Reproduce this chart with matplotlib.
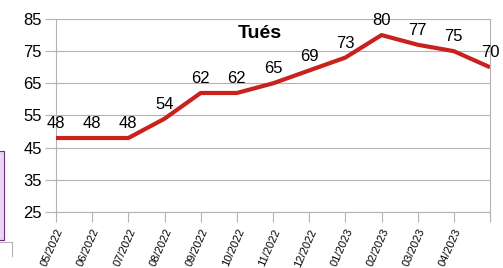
import matplotlib.pyplot as plt
from matplotlib.patches import Rectangle
from matplotlib.lines import Line2D

plt.rcParams['font.family'] = ['Liberation Sans', 'DejaVu Sans']

months = ["05/2022", "06/2022", "07/2022", "08/2022", "09/2022", "10/2022",
          "11/2022", "12/2022", "01/2023", "02/2023", "03/2023", "04/2023", ""]
tues = [48, 48, 48, 54, 62, 62, 65, 69, 73, 80, 77, 75, 70]

fig = plt.figure(figsize=[5.03, 2.68], dpi=100)
ax = fig.add_axes([56/503, 1-212/268, 434/503, 193/268])

x = list(range(len(tues)))
ax.plot(x, tues, color="#c9211e", linewidth=3, solid_capstyle="butt", zorder=3)
for xi, v in zip(x, tues):
    ax.annotate(str(v), (xi, v), xytext=(0, 5), textcoords="offset points",
                ha="center", va="bottom", fontsize=12, zorder=4)

ax.set_xlim(0, len(tues)-1)
ax.set_ylim(25, 85)
ax.set_yticks(range(25, 86, 10))
ax.set_xticks(x)
ax.set_xticklabels(months, rotation=66, ha="right", rotation_mode="anchor", fontsize=8)
ax.tick_params(axis="y", labelsize=12, length=8, color="#b3b3b3", pad=2)
ax.tick_params(axis="x", length=7, color="#b3b3b3", pad=4)
ax.grid(axis="y", color="#b3b3b3", linewidth=0.8)
for s in ["left", "right", "bottom"]:
    ax.spines[s].set_color("#b3b3b3")
    ax.spines[s].set_linewidth(0.8)
ax.spines["top"].set_visible(False)

ax.text(0.47, 0.925, "Tués", transform=ax.transAxes, ha="center", va="center",
        fontsize=14, fontweight="bold")

# piece of a neighbouring chart at the left edge
fig.patches.append(Rectangle((-0.01, 1-240/268), 3.5/503+0.01, 89/268, transform=fig.transFigure,
                             facecolor="#ead5f2", edgecolor="#6b2d82", linewidth=0.8))
fig.lines.append(Line2D([0, 12/503], [1-242/268, 1-242/268], transform=fig.transFigure,
                        color="#b3b3b3", linewidth=0.8))
fig.lines.append(Line2D([12/503, 12/503], [1-242/268, 1-256/268], transform=fig.transFigure,
                        color="#b3b3b3", linewidth=0.8))

plt.savefig("out.png", dpi=100)
